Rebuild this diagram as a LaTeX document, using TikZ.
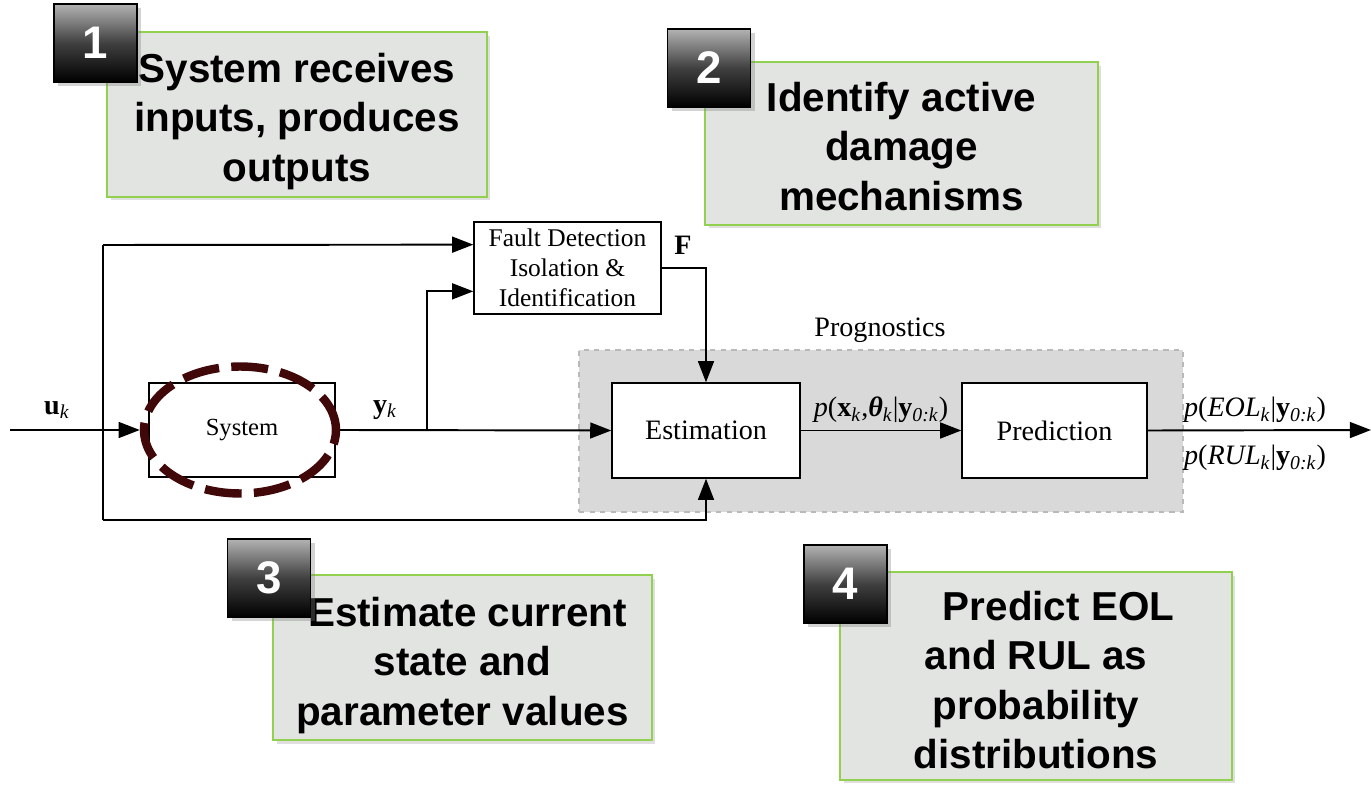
\documentclass[tikz,border=0pt]{standalone}
\usepackage{fontspec}
\setmainfont{Liberation Serif}
\newfontfamily\calloutfont{Liberation Sans}
\usepackage{tikz}
\usetikzlibrary{arrows.meta,shapes.geometric,shadows,calc,positioning}

\definecolor{calloutgreen}{RGB}{146,208,80}
\definecolor{calloutgray}{RGB}{226,228,226}
\definecolor{proggray}{RGB}{217,217,217}
\definecolor{progedge}{RGB}{185,185,185}
\definecolor{darkmaroon}{RGB}{64,8,8}

\tikzset{
  blockbox/.style={draw, line width=0.8pt, fill=white, inner sep=0pt, font=\fontsize{16}{19}\selectfont},
  flow/.style={line width=1.1pt, -{Triangle[length=12pt,width=9pt]}},
  callout/.style={draw=calloutgreen, line width=1pt, fill=calloutgray, inner sep=0pt,
    drop shadow={opacity=0.25, shadow xshift=2pt, shadow yshift=-2pt}},
  callouttext/.style={align=center, inner sep=0pt, font=\calloutfont\bfseries\fontsize{23}{28}\selectfont},
  badge/.style={draw=black, line width=0.6pt, top color=black!30, bottom color=black, middle color=black!75,
    minimum width=1.66cm, minimum height=1.56cm, inner sep=0pt, text=white,
    font=\calloutfont\bfseries\fontsize{26}{30}\selectfont, drop shadow={opacity=0.35}},
  siglabel/.style={font=\fontsize{16}{19}\selectfont}
}

\begin{document}
\begin{tikzpicture}[x=0.02cm, y=-0.02cm]
\useasboundingbox (0,0) rectangle (1371,786);

% the four callouts with their numbers
\node[callout, minimum width=7.6cm, minimum height=3.3cm] (c1) at (297,114.5) {};
\node[callout, minimum width=7.86cm, minimum height=3.26cm] (c2) at (901.5,143.5) {};
\node[callout, minimum width=7.58cm, minimum height=3.3cm] (c3) at (462.5,657.5) {};
\node[callout, minimum width=7.84cm, minimum height=4.16cm] (c4) at (1036,676) {};
\node[callouttext] (t1) at ($(c1)+(0,7)$) {System receives\\inputs, produces\\outputs};
\node[callouttext] (t2) at ($(c2)+(0,3)$) {Identify active\\damage\\mechanisms};
\node[callouttext] (t3) at ($(c3)+(0,8)$) {\hspace*{0.2cm}Estimate current\\state and\\parameter values};
\node[callouttext] (t4) at ($(c4)+(0,4)$) {\hspace*{0.9cm}Predict EOL\\and RUL as\\probability\\distributions};
\node[badge] (b1) at (95.5,43) {1};
\node[badge] (b2) at (709,68) {2};
\node[badge] (b3) at (269,578) {3};
\node[badge] (b4) at (845.5,584) {4};

% prognostics block
\node[draw=progedge, dashed, fill=proggray, line width=1pt, minimum width=12.08cm, minimum height=3.24cm, inner sep=0pt] (prog) at (881,431) {};
\node[siglabel] (proglab) at (880,330) {Prognostics};
\node[blockbox, minimum width=3.76cm, minimum height=1.9cm] (est) at (706,430.5) {Estimation};
\node[blockbox, minimum width=3.7cm, minimum height=1.9cm] (pred) at (1054.5,430.5) {Prediction};

% system and fault block
\node[blockbox, minimum width=3.72cm, minimum height=1.88cm, font=\fontsize{14}{17}\selectfont] (sys) at (242,430) {System};
\node[ellipse, draw=darkmaroon, line width=4.8pt, dash pattern=on 21pt off 7pt, minimum width=3.84cm, minimum height=2.54cm] (ring) at (240,430) {};
\node[blockbox, minimum width=3.74cm, minimum height=1.84cm, align=center, font=\fontsize{14.5}{17}\selectfont] (fdi) at (567.5,268) {Fault Detection\\Isolation \&\\Identification};

\coordinate (in) at (10,430);
\coordinate (tapup) at (103,245);
\coordinate (loop) at (103,520);
\coordinate (ybranch) at (427,430);
\coordinate (out) at (1371,430);

% connectors
\draw[flow] (in) -- (ring.west);
\draw[line width=1.1pt] (tapup) -- (loop);
\draw[flow] (tapup) -- ($(fdi.north west)!0.25!(fdi.south west)$);
\draw[flow] (loop) -| (est.south);
\draw[flow] (ring.east) -- (est.west);
\draw[flow] (ybranch) |- ($(fdi.north west)!0.75!(fdi.south west)$);
\draw[flow] (fdi.east) -| (est.north);
\draw[flow] (est.east) -- (pred.west);
\draw[flow] (pred.east) -- (out);

% signal labels
\node[siglabel] (ulab) at (57,410) {\textbf{u}\textsubscript{\textit{k}}};
\node[siglabel] (ylab) at (385,410) {\textbf{y}\textsubscript{\textit{k}}};
\node[siglabel, font=\bfseries\fontsize{16}{19}\selectfont] (flab) at (683,245) {F};
\node[siglabel] (xlab) at (881,410) {\textit{p}(\textbf{x}\textsubscript{\textit{k}},\textbf{\textit{θ}}\textsubscript{\textit{k}}|\textbf{y}\textsubscript{\textit{0:k}})};
\node[siglabel] (eollab) at (1255,410) {\textit{p}(\textit{EOL}\textsubscript{\textit{k}}|\textbf{y}\textsubscript{\textit{0:k}})};
\node[siglabel] (rullab) at (1255,458) {\textit{p}(\textit{RUL}\textsubscript{\textit{k}}|\textbf{y}\textsubscript{\textit{0:k}})};
\end{tikzpicture}
\end{document}
